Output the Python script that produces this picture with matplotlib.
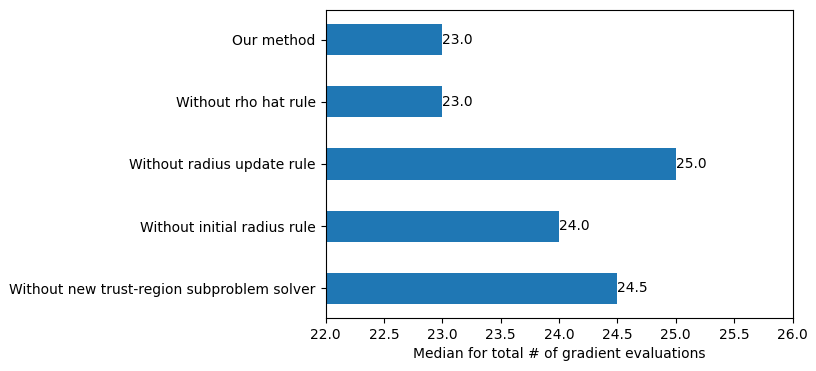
import matplotlib
matplotlib.use("Agg")
import matplotlib.pyplot as plt

categories = ["Without new trust-region subproblem solver",
              "Without initial radius rule",
              "Without radius update rule",
              "Without rho hat rule",
              "Our method"]
values = [24.5, 24.0, 25.0, 23.0, 23.0]
xticks = [22.0, 22.5, 23.0, 23.5, 24.0, 24.5, 25.0, 25.5, 26.0]

fig = plt.figure(figsize=(8.16, 3.71), dpi=100)
ax = fig.add_axes([325.5/816, 1-318/371, (792.5-325.5)/816, (318-10)/371])
bars = ax.barh(range(len(categories)), values, height=0.5, color="#1f77b4")
ax.set_yticks(range(len(categories)))
ax.set_yticklabels(categories)
ax.set_xlim(22, 26)
ax.set_xticks(xticks)
ax.set_xticklabels([f"{t:.1f}" for t in xticks])
ax.set_xlabel("Median for total # of gradient evaluations")
ax.bar_label(bars, fmt="%.1f")
fig.savefig("out.png", dpi=100)
